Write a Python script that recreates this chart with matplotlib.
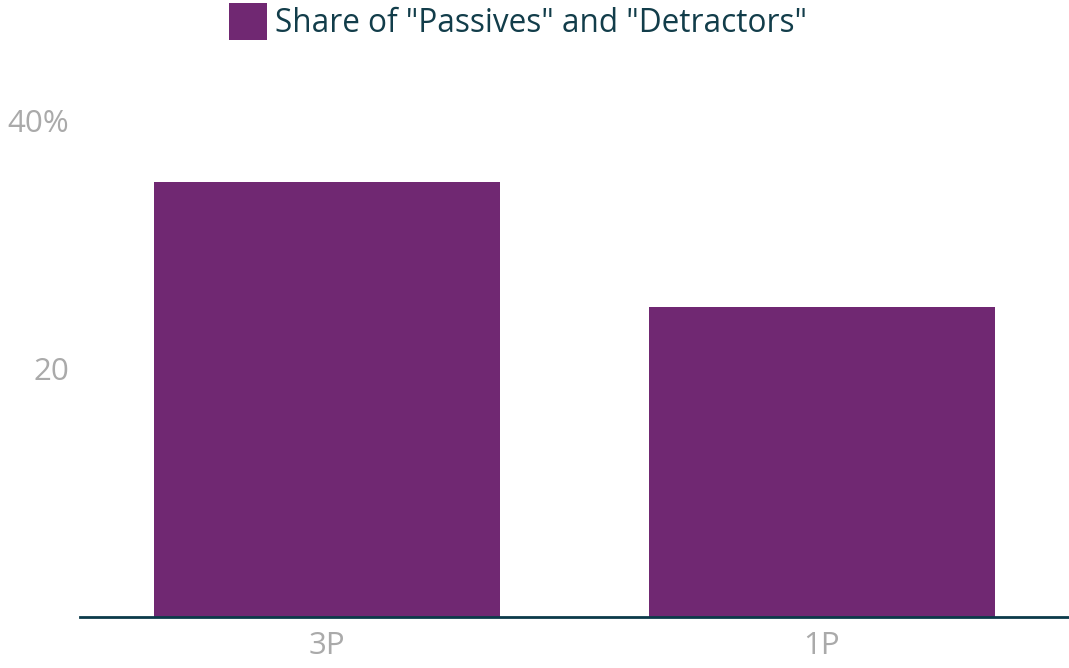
import matplotlib
matplotlib.use("Agg")
import matplotlib.pyplot as plt
from matplotlib.patches import Patch

plt.rcParams["font.family"] = ["Open Sans", "DejaVu Sans"]

# data
categories = ["3P", "1P"]
values = [35.1, 25.0]
series_name = 'Share of "Passives" and "Detractors"'
yticks = [20, 40]
ytick_labels = ["20", "40%"]

bar_color = "#702872"
axis_color = "#0b3a4a"
tick_color = "#aaaaaa"

fig = plt.figure(figsize=(10.69, 6.68), dpi=100)
ax = fig.add_axes([80 / 1069, 1 - 617 / 668, 1 - 80 / 1069, (617 - 96) / 668])

x = range(len(categories))
ax.bar(x, values, width=0.7, color=bar_color, zorder=2)

ax.set_xlim(-0.5, len(categories) - 0.5)
ax.set_ylim(0, 42)
ax.set_xticks(list(x))
ax.set_xticklabels(categories)
ax.set_yticks(yticks)
ax.set_yticklabels(ytick_labels)

for s in ["top", "right", "left"]:
    ax.spines[s].set_visible(False)
ax.spines["bottom"].set_color(axis_color)
ax.spines["bottom"].set_linewidth(2)
ax.spines["bottom"].set_zorder(3)

ax.tick_params(axis="both", length=0, labelsize=22.5, colors=tick_color)
ax.tick_params(axis="y", pad=8)
ax.tick_params(axis="x", pad=10)

handles = [Patch(facecolor=bar_color, label=series_name)]
fig.legend(handles=handles, loc="upper left", bbox_to_anchor=(229 / 1069, 1 - 3 / 668),
           frameon=False, fontsize=22.7, labelcolor="#123d4a", borderpad=0,
           borderaxespad=0, handlelength=1.2, handleheight=1.45, handletextpad=0.25)

fig.savefig("out.png", dpi=100)
